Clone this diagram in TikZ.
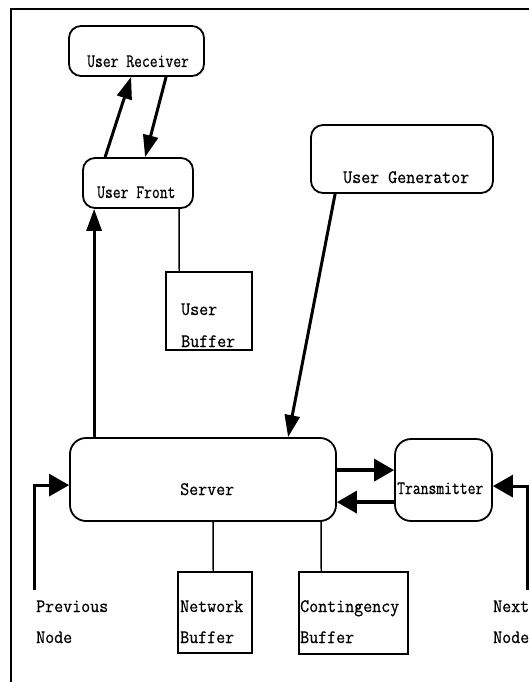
\documentclass[tikz,border=0pt]{standalone}
\usepackage{fontspec}
\usetikzlibrary{arrows.meta,calc}
\newfontfamily\labfont{Latin Modern Mono}[FakeStretch=0.92,FakeBold=0.7]
\newfontfamily\narfont{Latin Modern Mono}[FakeStretch=0.80,FakeBold=0.7]
\tikzset{
  rbox/.style={draw, line width=1.8pt, rounded corners=12pt, inner sep=0pt},
  sbox/.style={draw, line width=1.6pt, inner sep=0pt},
  flow/.style={line width=3pt, -{Triangle[length=22pt,width=15pt]}},
  hflow/.style={line width=3.6pt, -{Triangle[length=20pt,width=22pt]}},
  side/.style={line width=3pt, -{Triangle[length=20pt,width=22pt]}},
  tie/.style={line width=1.4pt},
  txt/.style={anchor=base west, inner sep=0pt, font=\labfont\fontsize{19}{19}\selectfont},
  ntxt/.style={anchor=base west, inner sep=0pt, font=\narfont\fontsize{19}{19}\selectfont}
}
\begin{document}
\begin{tikzpicture}[x=1pt,y=-1pt]
\useasboundingbox (0,0) rectangle (529,682);
\clip (0,0) rectangle (529,682);

% outer frame
\draw[line width=1.8pt] (11,700) -- (11,9) -- (560,9);

% boxes
\node[rbox, minimum width=135pt, minimum height=50pt] (ur) at (136.5,51) {};
\node[rbox, minimum width=110pt, minimum height=50pt] (uf) at (138,183) {};
\node[rbox, minimum width=182pt, minimum height=68pt] (ug) at (402,159) {};
\node[sbox, minimum width=86pt, minimum height=78pt] (ub) at (209,311) {};
\node[rbox, rounded corners=16pt, minimum width=266pt, minimum height=83pt] (srv) at (203,479.5) {};
\node[rbox, rounded corners=16pt, minimum width=97pt, minimum height=82pt] (tx) at (443.5,480) {};
\node[sbox, minimum width=74pt, minimum height=81pt] (nb) at (215,612.5) {};
\node[sbox, minimum width=109pt, minimum height=82pt] (cb) at (353.5,613) {};

% labels
\node[ntxt] (urt) at (87,67) {User Receiver};
\node[ntxt] (uft) at (97,198) {User Front};
\node[txt] (ugt) at (343,183) {User Generator};
\node[txt] (ubt1) at (181,315) {User};
\node[txt] (ubt2) at (181,347) {Buffer};
\node[txt] (srvt) at (180,495) {Server};
\node[ntxt] (txt1) at (397,494) {Transmitter};
\node[txt] (nbt1) at (180,612) {Network};
\node[txt] (nbt2) at (180,643) {Buffer};
\node[txt] (cbt1) at (300,612) {Contingency};
\node[txt] (cbt2) at (300,643) {Buffer};
\node[txt] (pvt1) at (36,612) {Previous};
\node[txt] (pvt2) at (36,643) {Node};
\node[txt] (nxt1) at (493,612) {Next};
\node[txt] (nxt2) at (493,643) {Node};

% free ends of the external links
\coordinate (pv) at (34,590);
\coordinate (nx) at (527,590);

% connectors
\draw[flow] ($(uf.north west)+(23,0)$) -- ($(ur.south west)+(63,0)$);
\draw[flow] ($(ur.south west)+(98,0)$) -- ($(uf.north west)+(63,0)$);
\draw[flow] ($(srv.north west)+(25,0)$) -- ($(uf.south west)+(12,0)$);
\draw[tie] ($(uf.south west)+(97,0)$) -- ($(ub.north west)+(14,0)$);
\draw[flow] ($(ug.south west)+(25,0)$) -- ($(srv.north west)+(219,0)$);
\draw[tie] ($(srv.south west)+(144,0)$) -- ($(nb.north west)+(36,0)$);
\draw[tie] ($(srv.south west)+(252,0)$) -- ($(cb.north west)+(23,0)$);
\draw[hflow] ($(srv.north east)+(0,33)$) -- ($(tx.north west)+(0,32)$);
\draw[hflow] ($(tx.north west)+(0,64)$) -- ($(srv.north east)+(0,65)$);
\draw[side] (pv) |- ($(srv.north west)+(0,48)$);
\draw[side] (nx) |- ($(tx.north east)+(0,48)$);
\end{tikzpicture}
\end{document}
